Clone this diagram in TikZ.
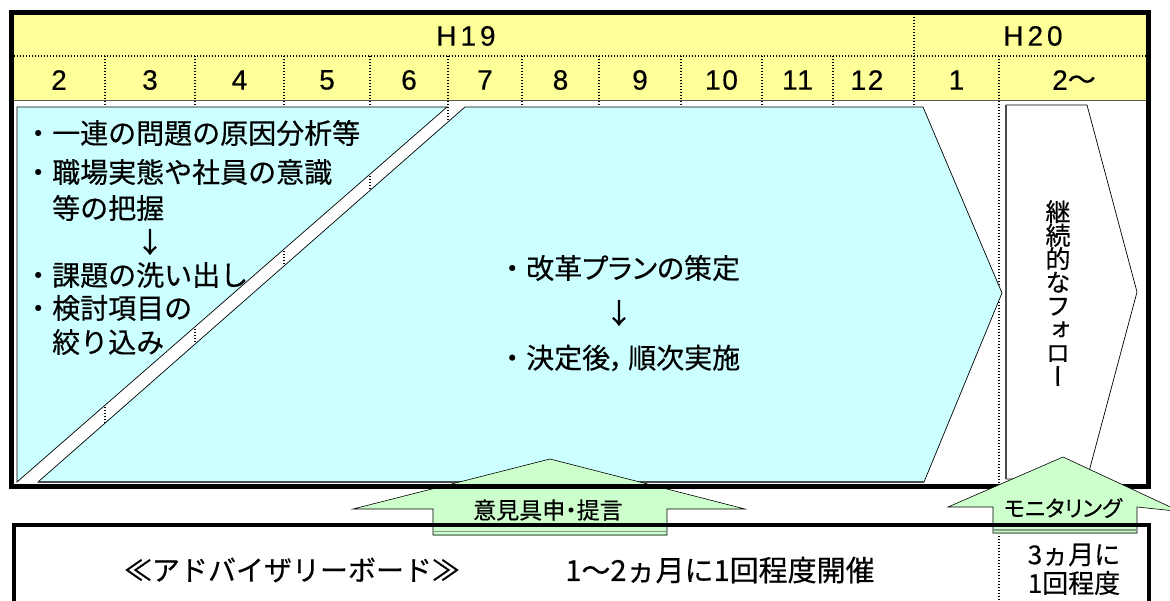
\documentclass[tikz,border=0pt]{standalone}
\usepackage{fontspec}
\setmainfont[FakeBold=0.4]{Noto Sans CJK JP}
\newfontfamily\latfont[FakeBold=0.4,LetterSpace=6]{Liberation Sans}
\newfontfamily\yrfont[FakeBold=0.4,LetterSpace=14]{Liberation Sans}
\newfontfamily\pfont[FakeBold=0.4,RawFeature=+palt]{Noto Sans CJK JP}
\newfontfamily\vfont[FakeBold=0.4,RawFeature=+vert]{Noto Sans CJK JP}
\newcommand\myfs[1]{\fontsize{#1}{#1}\selectfont}
\definecolor{hdr}{HTML}{FFFF99}
\definecolor{cyn}{HTML}{CCFFFF}
\definecolor{grn}{HTML}{CCFFCC}
\definecolor{strip}{HTML}{8A9A8A}
\begin{document}
\begin{tikzpicture}[x=1pt,y=-1pt,
  gridline/.style={line width=1.3pt, dash pattern=on 1.3pt off 1.7pt},
  frameline/.style={line width=4.5pt},
  shapeline/.style={draw=black, line width=0.7pt},
  mon/.style={inner sep=0pt, font=\latfont\myfs{28}},
  yr/.style={inner sep=0pt, font=\yrfont\myfs{28}},
  ltxt/.style={inner sep=0pt, anchor=west, font=\myfs{28}},
  ctxt/.style={inner sep=0pt, anchor=west, font=\myfs{28}},
  btxt/.style={inner sep=0pt, font=\myfs{28}},
  stxt/.style={inner sep=0pt, font=\myfs{26}},
  atxt/.style={inner sep=0pt, font=\pfont\myfs{23}}]
\useasboundingbox (0,0) rectangle (1170,601);
\fill[white] (0,0) rectangle (1170,601);

% header
\fill[hdr] (12,12) rectangle (1148,100);
\draw[gridline] (914,14) -- (914,56);
\draw[gridline] (14,56) -- (1146,56);
\foreach \x in {105,195,284,370,448,522,599,681,762,833,914}
  \draw[gridline] (\x,56) -- (\x,486);
\draw[gridline] (999,56) -- (999,601);
\draw[gray!70!black, line width=0.8pt] (14,100) -- (1146,100);

% year / month labels
\node[yr] (h19) at (466,36) {H19};
\node[yr] (h20) at (1033,36) {H20};
\node[mon] (m2) at (59,80) {2};
\node[mon] (m3) at (150,80) {3};
\node[mon] (m4) at (239.5,80) {4};
\node[mon] (m5) at (327,80) {5};
\node[mon] (m6) at (409,80) {6};
\node[mon] (m7) at (485,80) {7};
\node[mon] (m8) at (560.5,80) {8};
\node[mon] (m9) at (640,80) {9};
\node[mon] (m10) at (721.5,80) {10};
\node[mon] (m11) at (797.5,80) {11};
\node[mon] (m12) at (867,80) {12};
\node[mon] (m1) at (956.5,80) {1};
\node[mon] (m2b) at (1074,80) {2{\rmfamily\myfs{28}〜}};

% cyan shapes
\filldraw[fill=cyn, shapeline] (17,107) -- (447,107) -- (17,482) -- cycle;
\filldraw[fill=cyn, shapeline] (465,107) -- (923,107) -- (1002,293) -- (924,482) -- (38,482) -- cycle;
\draw[gray!60!black, line width=1.2pt] (38,482) -- (924,482);

% white chevron
\filldraw[fill=white, draw=black, line width=0.7pt] (1006,105) -- (1087,105) -- (1137,292) -- (1087,479) -- (1006,479) -- cycle;
\draw[gray!60!black, line width=1.2pt] (1006,105) -- (1006,479);

% left text
\node[ltxt] (l1) at (24,133) {・一連の問題の原因分析等};
\node[ltxt] (l2) at (24,172) {・職場実態や社員の意識};
\node[ltxt] (l3) at (52,208) {等の把握};
\node[inner sep=0pt, font=\myfs{28}] (la) at (150,242) {↓};
\node[ltxt] (l4) at (24,275) {・課題の洗い出し};
\node[ltxt] (l5) at (24,308) {・検討項目の};
\node[ltxt] (l6) at (52,342) {絞り込み};

% center text
\node[ctxt] (c1) at (498,268) {・{\pfont 改革プランの策定}};
\node[inner sep=0pt, font=\myfs{28}] (ca) at (619,313) {↓};
\node[ctxt] (c2) at (498,358) {・{\pfont 決定後，\hspace{4pt}順次実施}};

% vertical text
\node[inner sep=0pt, align=center, font=\vfont\fontsize{25}{23.5}\selectfont] (follow) at (1058,293)
  {継\\続\\的\\な\\フ\\ォ\\ロ\\ー};

% opinion arrow (under frame line)
\filldraw[fill=grn, draw=black, line width=0.6pt]
  (550,459) -- (745,509) -- (667,509) -- (667,535) -- (433,535) -- (433,509) -- (353,509) -- cycle;

% main frame
\draw[frameline] (11.5,12.5) rectangle (1148.5,486.5);

% monitoring arrow (over frame)
\filldraw[fill=grn, draw=black, line width=0.6pt]
  (1063,457) -- (1180,511.5) -- (1137,507) -- (1137,533) -- (993,533) -- (993,507) -- (948,507) -- cycle;

% bottom box
\draw[frameline] (14,601) -- (14,525) -- (1149,525) -- (1149,601);

% strips under arrows
\draw[strip, line width=1.2pt] (433,531.5) -- (667,531.5);
\draw[strip, line width=1pt] (433,535) -- (667,535);
\draw[strip, line width=1.2pt] (993,530) -- (1137,530);
\draw[strip, line width=1pt] (993,533) -- (1137,533);

% arrow labels
\node[atxt] (op) at (548,510) {意見具申・提言};
\node[inner sep=0pt, font=\pfont\myfs{22}] (moni) at (1063,508) {モニタリング};

% bottom texts
\node[btxt] (board) at (292,570) {≪アドバイザリーボード≫};
\node[inner sep=0pt, font=\myfs{29}] (freq) at (720,570) {1〜2ヵ月に1回程度開催};
\node[stxt] (q1) at (1074,555) {3ヵ月に};
\node[stxt] (q2) at (1074,583) {1回程度};
\end{tikzpicture}
\end{document}
